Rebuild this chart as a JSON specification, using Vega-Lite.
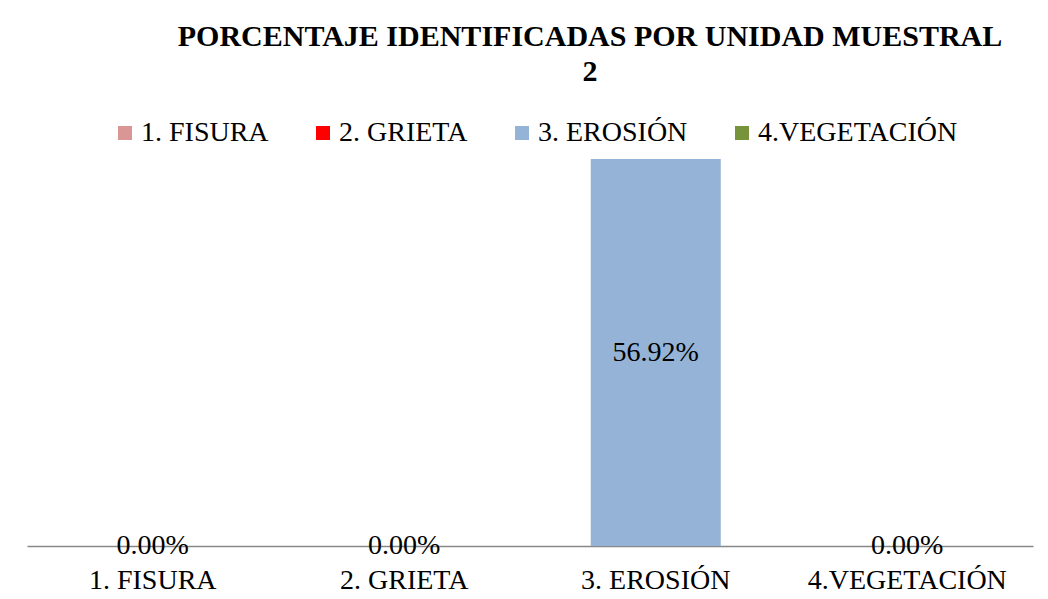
{
  "$schema": "https://vega.github.io/schema/vega-lite/v6.json",
  "autosize": "none",
  "width": 1006,
  "height": 387,
  "padding": {"left": 27, "top": 159, "right": 15, "bottom": 53},
  "background": "white",
  "config": {"view": {"stroke": null}, "font": "Liberation Serif"},
  "title": {
    "text": ["PORCENTAJE  IDENTIFICADAS POR UNIDAD MUESTRAL", "2"],
    "font": "Liberation Serif",
    "fontSize": 30,
    "fontWeight": "bold",
    "color": "#000000",
    "anchor": "middle",
    "frame": "group",
    "dx": 60,
    "lineHeight": 35,
    "offset": 32
  },
  "data": {
    "values": [
      {"categoria": "1. FISURA", "valor": 0},
      {"categoria": "2. GRIETA", "valor": 0},
      {"categoria": "3. EROSIÓN", "valor": 0.5692},
      {"categoria": "4.VEGETACIÓN", "valor": 0}
    ]
  },
  "encoding": {
    "x": {
      "field": "categoria",
      "type": "nominal",
      "sort": null,
      "scale": {"paddingInner": 0.483, "paddingOuter": 0.2415},
      "axis": {
        "title": null,
        "labelAngle": 0,
        "labelFont": "Liberation Serif",
        "labelFontSize": 28,
        "labelColor": "#000000",
        "labelPadding": 20,
        "labelLimit": 400,
        "ticks": false,
        "domainColor": "#888888",
        "domainWidth": 1.5
      }
    }
  },
  "layer": [
    {
      "mark": {"type": "bar"},
      "encoding": {
        "y": {
          "field": "valor",
          "type": "quantitative",
          "scale": {"domain": [0, 0.5692], "nice": false},
          "axis": null
        },
        "color": {
          "field": "categoria",
          "type": "nominal",
          "sort": null,
          "scale": {
            "domain": ["1. FISURA", "2. GRIETA", "3. EROSIÓN", "4.VEGETACIÓN"],
            "range": ["#D99694", "#FF0000", "#95B3D7", "#77933C"]
          },
          "legend": {
            "title": null,
            "orient": "none",
            "direction": "horizontal",
            "legendX": 84,
            "legendY": -40,
            "symbolType": "square",
            "symbolSize": 196,
            "symbolStrokeWidth": 0,
            "labelFont": "Liberation Serif",
            "labelFontSize": 28,
            "labelColor": "#000000",
            "labelOffset": 2,
            "columnPadding": 40,
            "padding": 0,
            "labelLimit": 400
          }
        }
      }
    },
    {
      "transform": [{"calculate": "datum.valor / 2", "as": "mitad"}],
      "mark": {"type": "text", "baseline": "middle", "align": "center", "fontSize": 28, "font": "Liberation Serif", "color": "#000000"},
      "encoding": {
        "y": {"field": "mitad", "type": "quantitative"},
        "text": {"field": "valor", "type": "quantitative", "format": ".2%"}
      }
    }
  ]
}
